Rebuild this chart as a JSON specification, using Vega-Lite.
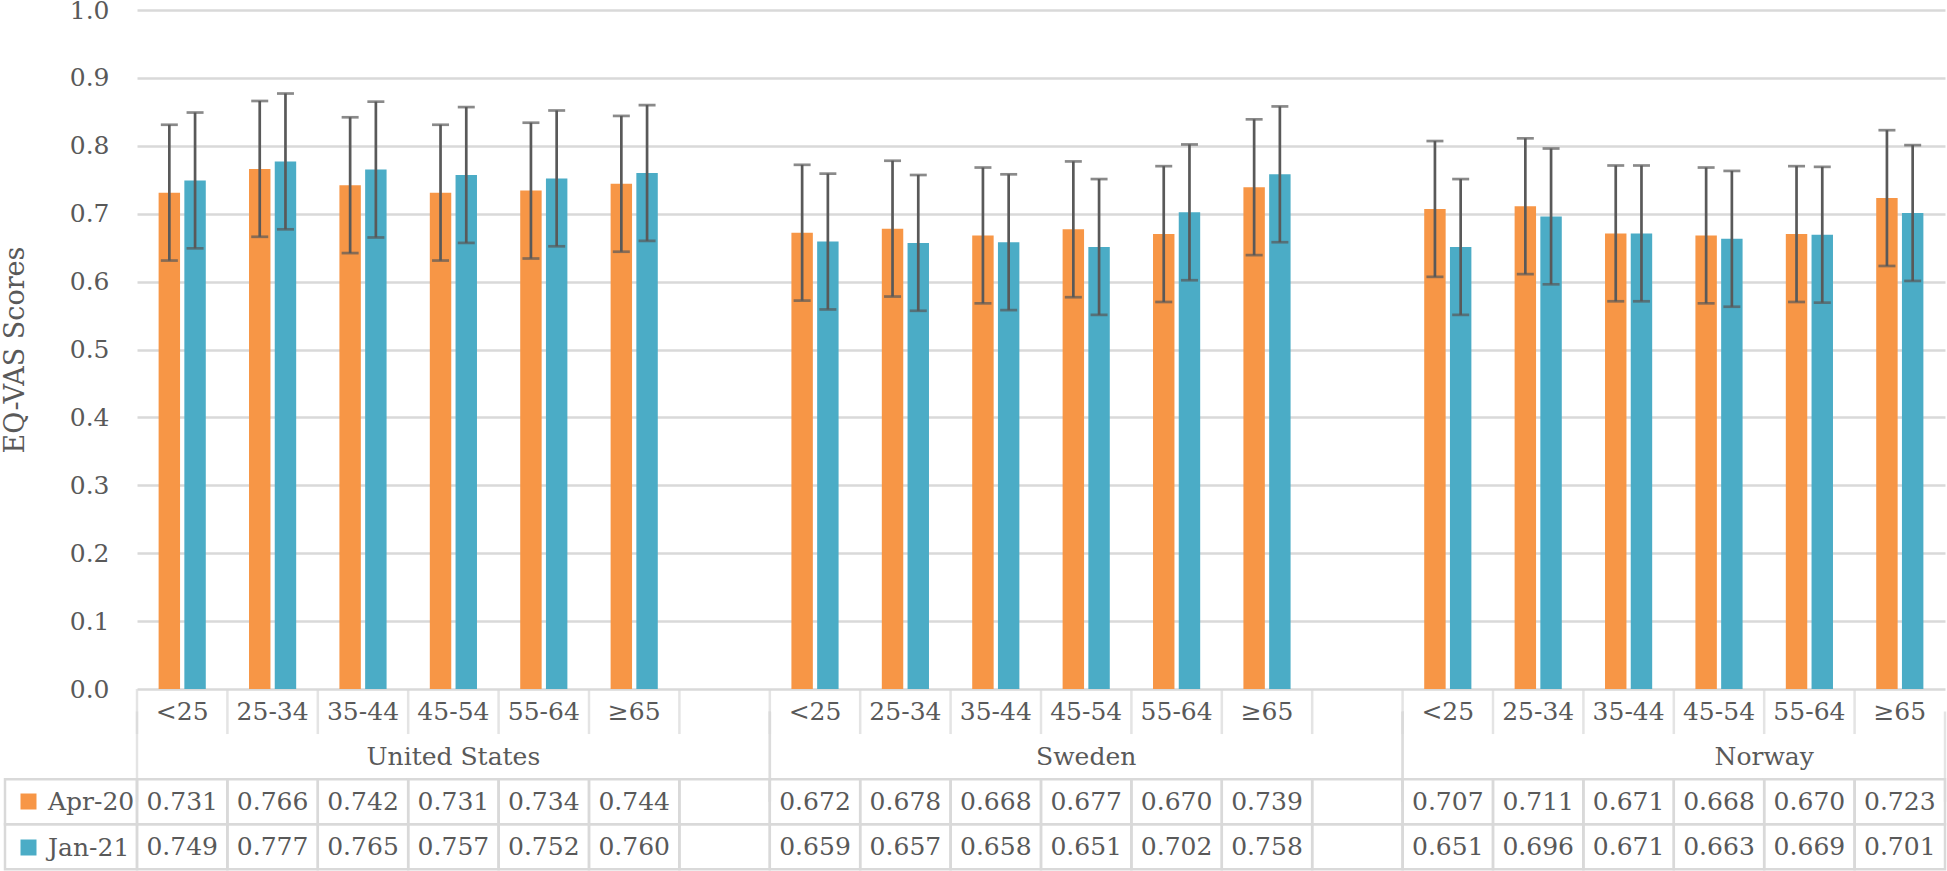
{
  "$schema": "https://vega.github.io/schema/vega-lite/v6.json",
  "width": 1808,
  "height": 679,
  "autosize": "none",
  "padding": {"left": 137, "top": 10, "right": 2, "bottom": 182},
  "config": {
    "view": {"stroke": null},
    "font": "DejaVu Serif",
    "text": {"font": "DejaVu Serif", "fontSize": 25, "color": "#595959"}
  },
  "datasets": {
    "bars": [
      {"country": "United States", "age": "<25", "slot": "US <25", "series": "Apr-20", "value": 0.731, "lo": 0.631, "hi": 0.831},
      {"country": "United States", "age": "25-34", "slot": "US 25-34", "series": "Apr-20", "value": 0.766, "lo": 0.666, "hi": 0.866},
      {"country": "United States", "age": "35-44", "slot": "US 35-44", "series": "Apr-20", "value": 0.742, "lo": 0.642, "hi": 0.842},
      {"country": "United States", "age": "45-54", "slot": "US 45-54", "series": "Apr-20", "value": 0.731, "lo": 0.631, "hi": 0.831},
      {"country": "United States", "age": "55-64", "slot": "US 55-64", "series": "Apr-20", "value": 0.734, "lo": 0.634, "hi": 0.834},
      {"country": "United States", "age": "≥65", "slot": "US ≥65", "series": "Apr-20", "value": 0.744, "lo": 0.644, "hi": 0.844},
      {"country": "United States", "age": "<25", "slot": "US <25", "series": "Jan-21", "value": 0.749, "lo": 0.649, "hi": 0.849},
      {"country": "United States", "age": "25-34", "slot": "US 25-34", "series": "Jan-21", "value": 0.777, "lo": 0.677, "hi": 0.877},
      {"country": "United States", "age": "35-44", "slot": "US 35-44", "series": "Jan-21", "value": 0.765, "lo": 0.665, "hi": 0.865},
      {"country": "United States", "age": "45-54", "slot": "US 45-54", "series": "Jan-21", "value": 0.757, "lo": 0.657, "hi": 0.857},
      {"country": "United States", "age": "55-64", "slot": "US 55-64", "series": "Jan-21", "value": 0.752, "lo": 0.652, "hi": 0.852},
      {"country": "United States", "age": "≥65", "slot": "US ≥65", "series": "Jan-21", "value": 0.760, "lo": 0.660, "hi": 0.860},
      {"country": "Sweden", "age": "<25", "slot": "SE <25", "series": "Apr-20", "value": 0.672, "lo": 0.572, "hi": 0.772},
      {"country": "Sweden", "age": "25-34", "slot": "SE 25-34", "series": "Apr-20", "value": 0.678, "lo": 0.578, "hi": 0.778},
      {"country": "Sweden", "age": "35-44", "slot": "SE 35-44", "series": "Apr-20", "value": 0.668, "lo": 0.568, "hi": 0.768},
      {"country": "Sweden", "age": "45-54", "slot": "SE 45-54", "series": "Apr-20", "value": 0.677, "lo": 0.577, "hi": 0.777},
      {"country": "Sweden", "age": "55-64", "slot": "SE 55-64", "series": "Apr-20", "value": 0.670, "lo": 0.570, "hi": 0.770},
      {"country": "Sweden", "age": "≥65", "slot": "SE ≥65", "series": "Apr-20", "value": 0.739, "lo": 0.639, "hi": 0.839},
      {"country": "Sweden", "age": "<25", "slot": "SE <25", "series": "Jan-21", "value": 0.659, "lo": 0.559, "hi": 0.759},
      {"country": "Sweden", "age": "25-34", "slot": "SE 25-34", "series": "Jan-21", "value": 0.657, "lo": 0.557, "hi": 0.757},
      {"country": "Sweden", "age": "35-44", "slot": "SE 35-44", "series": "Jan-21", "value": 0.658, "lo": 0.558, "hi": 0.758},
      {"country": "Sweden", "age": "45-54", "slot": "SE 45-54", "series": "Jan-21", "value": 0.651, "lo": 0.551, "hi": 0.751},
      {"country": "Sweden", "age": "55-64", "slot": "SE 55-64", "series": "Jan-21", "value": 0.702, "lo": 0.602, "hi": 0.802},
      {"country": "Sweden", "age": "≥65", "slot": "SE ≥65", "series": "Jan-21", "value": 0.758, "lo": 0.658, "hi": 0.858},
      {"country": "Norway", "age": "<25", "slot": "NO <25", "series": "Apr-20", "value": 0.707, "lo": 0.607, "hi": 0.807},
      {"country": "Norway", "age": "25-34", "slot": "NO 25-34", "series": "Apr-20", "value": 0.711, "lo": 0.611, "hi": 0.811},
      {"country": "Norway", "age": "35-44", "slot": "NO 35-44", "series": "Apr-20", "value": 0.671, "lo": 0.571, "hi": 0.771},
      {"country": "Norway", "age": "45-54", "slot": "NO 45-54", "series": "Apr-20", "value": 0.668, "lo": 0.568, "hi": 0.768},
      {"country": "Norway", "age": "55-64", "slot": "NO 55-64", "series": "Apr-20", "value": 0.670, "lo": 0.570, "hi": 0.770},
      {"country": "Norway", "age": "≥65", "slot": "NO ≥65", "series": "Apr-20", "value": 0.723, "lo": 0.623, "hi": 0.823},
      {"country": "Norway", "age": "<25", "slot": "NO <25", "series": "Jan-21", "value": 0.651, "lo": 0.551, "hi": 0.751},
      {"country": "Norway", "age": "25-34", "slot": "NO 25-34", "series": "Jan-21", "value": 0.696, "lo": 0.596, "hi": 0.796},
      {"country": "Norway", "age": "35-44", "slot": "NO 35-44", "series": "Jan-21", "value": 0.671, "lo": 0.571, "hi": 0.771},
      {"country": "Norway", "age": "45-54", "slot": "NO 45-54", "series": "Jan-21", "value": 0.663, "lo": 0.563, "hi": 0.763},
      {"country": "Norway", "age": "55-64", "slot": "NO 55-64", "series": "Jan-21", "value": 0.669, "lo": 0.569, "hi": 0.769},
      {"country": "Norway", "age": "≥65", "slot": "NO ≥65", "series": "Jan-21", "value": 0.701, "lo": 0.601, "hi": 0.801}
    ],
    "slots": [
      {"slot": "US <25", "age": "<25"}, {"slot": "US 25-34", "age": "25-34"}, {"slot": "US 35-44", "age": "35-44"},
      {"slot": "US 45-54", "age": "45-54"}, {"slot": "US 55-64", "age": "55-64"}, {"slot": "US ≥65", "age": "≥65"},
      {"slot": "US gap", "age": ""},
      {"slot": "SE <25", "age": "<25"}, {"slot": "SE 25-34", "age": "25-34"}, {"slot": "SE 35-44", "age": "35-44"},
      {"slot": "SE 45-54", "age": "45-54"}, {"slot": "SE 55-64", "age": "55-64"}, {"slot": "SE ≥65", "age": "≥65"},
      {"slot": "SE gap", "age": ""},
      {"slot": "NO <25", "age": "<25"}, {"slot": "NO 25-34", "age": "25-34"}, {"slot": "NO 35-44", "age": "35-44"},
      {"slot": "NO 45-54", "age": "45-54"}, {"slot": "NO 55-64", "age": "55-64"}, {"slot": "NO ≥65", "age": "≥65"}
    ],
    "countries": [
      {"country": "United States", "first": "US <25", "last": "US gap", "labelSlot": "US 45-54"},
      {"country": "Sweden", "first": "SE <25", "last": "SE gap", "labelSlot": "SE 45-54"},
      {"country": "Norway", "first": "NO <25", "last": "NO ≥65", "labelSlot": "NO 55-64"}
    ],
    "series": [{"series": "Apr-20"}, {"series": "Jan-21"}]
  },
  "layer": [
    {
      "data": {"name": "bars"},
      "mark": {"type": "bar"},
      "encoding": {
        "x": {"field": "slot", "type": "nominal", "axis": null,
              "scale": {"type": "band", "domain": ["US <25","US 25-34","US 35-44","US 45-54","US 55-64","US ≥65","US gap","SE <25","SE 25-34","SE 35-44","SE 45-54","SE 55-64","SE ≥65","SE gap","NO <25","NO 25-34","NO 35-44","NO 45-54","NO 55-64","NO ≥65"], "paddingInner": 0, "paddingOuter": 0}},
        "xOffset": {"field": "series", "type": "nominal", "scale": {"domain": ["Apr-20","Jan-21"], "paddingInner": 0.167, "paddingOuter": 0.84}},
        "y": {"field": "value", "type": "quantitative",
              "scale": {"domain": [0, 1], "nice": false},
              "axis": {"values": [0, 0.1, 0.2, 0.3, 0.4, 0.5, 0.6, 0.7, 0.8, 0.9, 1.0], "format": ".1f",
                       "grid": true, "gridColor": "#D9D9D9", "gridWidth": 2.7, "domain": false, "ticks": false,
                       "labelPadding": 28, "labelFont": "DejaVu Serif", "labelFontSize": 25, "labelColor": "#595959",
                       "title": "EQ-VAS Scores", "titleFont": "DejaVu Serif", "titleFontSize": 27, "titleFontWeight": "normal",
                       "titleColor": "#595959", "titlePadding": 40}},
        "color": {"field": "series", "type": "nominal",
                  "scale": {"domain": ["Apr-20","Jan-21"], "range": ["#F79646", "#4BACC6"]},
                  "legend": {"title": null, "orient": "none", "legendX": -121, "legendY": 779, "padding": 0,
                             "symbolType": "square", "symbolSize": 256, "symbolStrokeWidth": 0, "symbolOpacity": 1,
                             "labelFont": "DejaVu Serif", "labelFontSize": 25, "labelColor": "#595959", "labelOffset": 7,
                             "rowPadding": 20}}
      }
    },
    {
      "data": {"name": "bars"},
      "mark": {"type": "rule", "color": "#595959", "strokeWidth": 2.7},
      "encoding": {
        "x": {"field": "slot", "type": "nominal", "axis": null,
              "scale": {"type": "band", "domain": ["US <25","US 25-34","US 35-44","US 45-54","US 55-64","US ≥65","US gap","SE <25","SE 25-34","SE 35-44","SE 45-54","SE 55-64","SE ≥65","SE gap","NO <25","NO 25-34","NO 35-44","NO 45-54","NO 55-64","NO ≥65"], "paddingInner": 0, "paddingOuter": 0}},
        "xOffset": {"field": "series", "type": "nominal", "scale": {"domain": ["Apr-20","Jan-21"], "paddingInner": 0.167, "paddingOuter": 0.84}},
        "y": {"field": "lo", "type": "quantitative", "scale": {"domain": [0, 1], "nice": false}, "axis": null},
        "y2": {"field": "hi"}
      }
    },
    {
      "data": {"name": "bars"},
      "mark": {"type": "tick", "orient": "horizontal", "color": "#595959", "size": 17, "thickness": 2.7},
      "encoding": {
        "x": {"field": "slot", "type": "nominal", "axis": null,
              "scale": {"type": "band", "domain": ["US <25","US 25-34","US 35-44","US 45-54","US 55-64","US ≥65","US gap","SE <25","SE 25-34","SE 35-44","SE 45-54","SE 55-64","SE ≥65","SE gap","NO <25","NO 25-34","NO 35-44","NO 45-54","NO 55-64","NO ≥65"], "paddingInner": 0, "paddingOuter": 0}},
        "xOffset": {"field": "series", "type": "nominal", "scale": {"domain": ["Apr-20","Jan-21"], "paddingInner": 0.167, "paddingOuter": 0.84}},
        "y": {"field": "hi", "type": "quantitative", "scale": {"domain": [0, 1], "nice": false}, "axis": null}
      }
    },
    {
      "data": {"name": "bars"},
      "mark": {"type": "tick", "orient": "horizontal", "color": "#595959", "size": 17, "thickness": 2.7},
      "encoding": {
        "x": {"field": "slot", "type": "nominal", "axis": null,
              "scale": {"type": "band", "domain": ["US <25","US 25-34","US 35-44","US 45-54","US 55-64","US ≥65","US gap","SE <25","SE 25-34","SE 35-44","SE 45-54","SE 55-64","SE ≥65","SE gap","NO <25","NO 25-34","NO 35-44","NO 45-54","NO 55-64","NO ≥65"], "paddingInner": 0, "paddingOuter": 0}},
        "xOffset": {"field": "series", "type": "nominal", "scale": {"domain": ["Apr-20","Jan-21"], "paddingInner": 0.167, "paddingOuter": 0.84}},
        "y": {"field": "lo", "type": "quantitative", "scale": {"domain": [0, 1], "nice": false}, "axis": null}
      }
    },
    {
      "data": {"name": "slots"},
      "mark": {"type": "rect", "fillOpacity": 0, "stroke": "#D9D9D9", "strokeWidth": 2.5},
      "encoding": {
        "x": {"field": "slot", "type": "nominal", "axis": null,
              "scale": {"type": "band", "domain": ["US <25","US 25-34","US 35-44","US 45-54","US 55-64","US ≥65","US gap","SE <25","SE 25-34","SE 35-44","SE 45-54","SE 55-64","SE ≥65","SE gap","NO <25","NO 25-34","NO 35-44","NO 45-54","NO 55-64","NO ≥65"], "paddingInner": 0, "paddingOuter": 0}},
        "y": {"datum": "Apr-20", "type": "nominal", "axis": null,
              "scale": {"type": "band", "domain": ["age","country","Apr-20","Jan-21"], "range": [679, 859.3], "paddingInner": 0, "paddingOuter": 0}}
      }
    },
    {
      "data": {"name": "slots"},
      "mark": {"type": "rect", "fillOpacity": 0, "stroke": "#D9D9D9", "strokeWidth": 2.5},
      "encoding": {
        "x": {"field": "slot", "type": "nominal", "axis": null,
              "scale": {"type": "band", "domain": ["US <25","US 25-34","US 35-44","US 45-54","US 55-64","US ≥65","US gap","SE <25","SE 25-34","SE 35-44","SE 45-54","SE 55-64","SE ≥65","SE gap","NO <25","NO 25-34","NO 35-44","NO 45-54","NO 55-64","NO ≥65"], "paddingInner": 0, "paddingOuter": 0}},
        "y": {"datum": "Jan-21", "type": "nominal", "axis": null,
              "scale": {"type": "band", "domain": ["age","country","Apr-20","Jan-21"], "range": [679, 859.3], "paddingInner": 0, "paddingOuter": 0}}
      }
    },
    {
      "data": {"name": "series"},
      "mark": {"type": "rect", "fillOpacity": 0, "stroke": "#D9D9D9", "strokeWidth": 2.5},
      "encoding": {
        "x": {"datum": "label", "type": "nominal", "axis": null,
              "scale": {"type": "band", "domain": ["label"], "range": [-132, 0], "paddingInner": 0, "paddingOuter": 0}},
        "y": {"field": "series", "type": "nominal", "axis": null,
              "scale": {"type": "band", "domain": ["age","country","Apr-20","Jan-21"], "range": [679, 859.3], "paddingInner": 0, "paddingOuter": 0}}
      }
    },
    {
      "data": {"name": "slots"},
      "mark": {"type": "tick", "orient": "vertical", "color": "#D9D9D9", "size": 45, "thickness": 2.5},
      "encoding": {
        "x": {"field": "slot", "type": "nominal", "axis": null, "bandPosition": 0,
              "scale": {"type": "band", "domain": ["US <25","US 25-34","US 35-44","US 45-54","US 55-64","US ≥65","US gap","SE <25","SE 25-34","SE 35-44","SE 45-54","SE 55-64","SE ≥65","SE gap","NO <25","NO 25-34","NO 35-44","NO 45-54","NO 55-64","NO ≥65"], "paddingInner": 0, "paddingOuter": 0}},
        "y": {"datum": "age", "type": "nominal", "axis": null,
              "scale": {"type": "band", "domain": ["age","country","Apr-20","Jan-21"], "range": [679, 859.3], "paddingInner": 0, "paddingOuter": 0}}
      }
    },
    {
      "data": {"name": "countries"},
      "mark": {"type": "tick", "orient": "vertical", "color": "#D9D9D9", "size": 90.2, "thickness": 2.5},
      "encoding": {
        "x": {"field": "first", "type": "nominal", "axis": null, "bandPosition": 0,
              "scale": {"type": "band", "domain": ["US <25","US 25-34","US 35-44","US 45-54","US 55-64","US ≥65","US gap","SE <25","SE 25-34","SE 35-44","SE 45-54","SE 55-64","SE ≥65","SE gap","NO <25","NO 25-34","NO 35-44","NO 45-54","NO 55-64","NO ≥65"], "paddingInner": 0, "paddingOuter": 0}},
        "y": {"datum": "country", "type": "nominal", "axis": null, "bandPosition": 0,
              "scale": {"type": "band", "domain": ["age","country","Apr-20","Jan-21"], "range": [679, 859.3], "paddingInner": 0, "paddingOuter": 0}}
      }
    },
    {
      "data": {"name": "countries"},
      "mark": {"type": "tick", "orient": "vertical", "color": "#D9D9D9", "size": 90.2, "thickness": 2.5},
      "encoding": {
        "x": {"field": "last", "type": "nominal", "axis": null, "bandPosition": 1,
              "scale": {"type": "band", "domain": ["US <25","US 25-34","US 35-44","US 45-54","US 55-64","US ≥65","US gap","SE <25","SE 25-34","SE 35-44","SE 45-54","SE 55-64","SE ≥65","SE gap","NO <25","NO 25-34","NO 35-44","NO 45-54","NO 55-64","NO ≥65"], "paddingInner": 0, "paddingOuter": 0}},
        "y": {"datum": "country", "type": "nominal", "axis": null, "bandPosition": 0,
              "scale": {"type": "band", "domain": ["age","country","Apr-20","Jan-21"], "range": [679, 859.3], "paddingInner": 0, "paddingOuter": 0}}
      }
    },
    {
      "data": {"name": "slots"},
      "mark": {"type": "text", "align": "center", "baseline": "middle"},
      "encoding": {
        "x": {"field": "slot", "type": "nominal", "axis": null,
              "scale": {"type": "band", "domain": ["US <25","US 25-34","US 35-44","US 45-54","US 55-64","US ≥65","US gap","SE <25","SE 25-34","SE 35-44","SE 45-54","SE 55-64","SE ≥65","SE gap","NO <25","NO 25-34","NO 35-44","NO 45-54","NO 55-64","NO ≥65"], "paddingInner": 0, "paddingOuter": 0}},
        "y": {"datum": "age", "type": "nominal", "axis": null,
              "scale": {"type": "band", "domain": ["age","country","Apr-20","Jan-21"], "range": [679, 859.3], "paddingInner": 0, "paddingOuter": 0}},
        "text": {"field": "age", "type": "nominal"}
      }
    },
    {
      "data": {"name": "bars"},
      "mark": {"type": "text", "align": "center", "baseline": "middle"},
      "encoding": {
        "x": {"field": "slot", "type": "nominal", "axis": null,
              "scale": {"type": "band", "domain": ["US <25","US 25-34","US 35-44","US 45-54","US 55-64","US ≥65","US gap","SE <25","SE 25-34","SE 35-44","SE 45-54","SE 55-64","SE ≥65","SE gap","NO <25","NO 25-34","NO 35-44","NO 45-54","NO 55-64","NO ≥65"], "paddingInner": 0, "paddingOuter": 0}},
        "y": {"field": "series", "type": "nominal", "axis": null,
              "scale": {"type": "band", "domain": ["age","country","Apr-20","Jan-21"], "range": [679, 859.3], "paddingInner": 0, "paddingOuter": 0}},
        "text": {"field": "value", "type": "quantitative", "format": ".3f"}
      }
    },
    {
      "data": {"name": "countries"},
      "transform": [{"filter": "datum.country !== 'Norway'"}],
      "mark": {"type": "text", "align": "center", "baseline": "middle"},
      "encoding": {
        "x": {"field": "labelSlot", "type": "nominal", "axis": null, "bandPosition": 0.5,
              "scale": {"type": "band", "domain": ["US <25","US 25-34","US 35-44","US 45-54","US 55-64","US ≥65","US gap","SE <25","SE 25-34","SE 35-44","SE 45-54","SE 55-64","SE ≥65","SE gap","NO <25","NO 25-34","NO 35-44","NO 45-54","NO 55-64","NO ≥65"], "paddingInner": 0, "paddingOuter": 0}},
        "y": {"datum": "country", "type": "nominal", "axis": null,
              "scale": {"type": "band", "domain": ["age","country","Apr-20","Jan-21"], "range": [679, 859.3], "paddingInner": 0, "paddingOuter": 0}},
        "text": {"field": "country", "type": "nominal"}
      }
    },
    {
      "data": {"name": "countries"},
      "transform": [{"filter": "datum.country === 'Norway'"}],
      "mark": {"type": "text", "align": "center", "baseline": "middle"},
      "encoding": {
        "x": {"field": "labelSlot", "type": "nominal", "axis": null, "bandPosition": 0,
              "scale": {"type": "band", "domain": ["US <25","US 25-34","US 35-44","US 45-54","US 55-64","US ≥65","US gap","SE <25","SE 25-34","SE 35-44","SE 45-54","SE 55-64","SE ≥65","SE gap","NO <25","NO 25-34","NO 35-44","NO 45-54","NO 55-64","NO ≥65"], "paddingInner": 0, "paddingOuter": 0}},
        "y": {"datum": "country", "type": "nominal", "axis": null,
              "scale": {"type": "band", "domain": ["age","country","Apr-20","Jan-21"], "range": [679, 859.3], "paddingInner": 0, "paddingOuter": 0}},
        "text": {"field": "country", "type": "nominal"}
      }
    }
  ],
  "resolve": {"scale": {"x": "independent", "y": "independent", "xOffset": "independent"}}
}
